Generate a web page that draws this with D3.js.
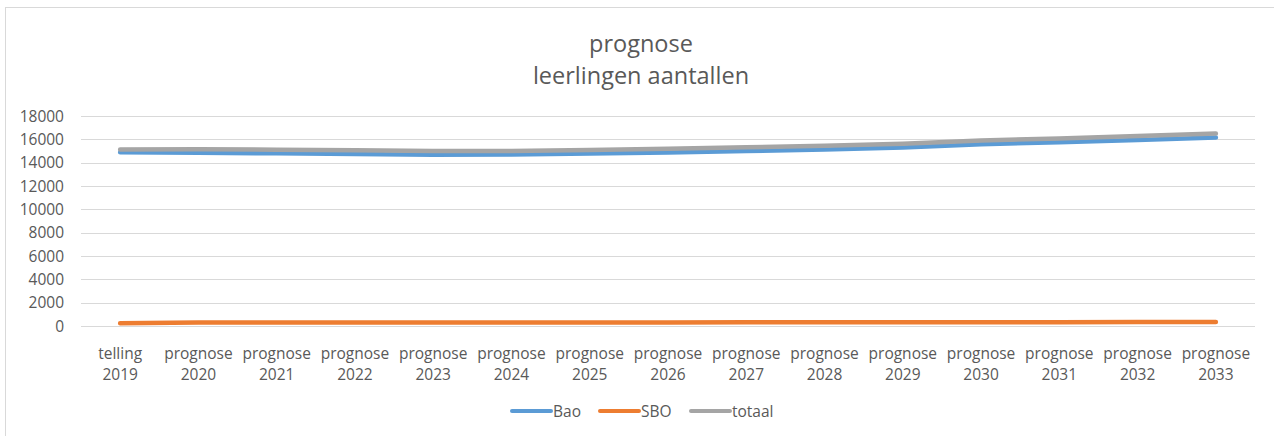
<!DOCTYPE html>
<html>
<head>
<meta charset="utf-8">
<script src="https://cdn.jsdelivr.net/npm/d3@7"></script>
<style>
  body { margin: 0; background: #fff; }
  text { font-family: "Open Sans", sans-serif; fill: #595959; }
</style>
</head>
<body>
<svg id="chart"></svg>
<script>
let width = 1274;
let height = 436;
let margin = {"top": 116, "bottom": 110, "left": 81, "right": 19};

// data
let labelTop = ["telling", "prognose", "prognose", "prognose", "prognose", "prognose", "prognose", "prognose",
    "prognose", "prognose", "prognose", "prognose", "prognose", "prognose", "prognose"];
let years = ["2019", "2020", "2021", "2022", "2023", "2024", "2025", "2026", "2027", "2028", "2029", "2030", "2031", "2032", "2033"];
let bao = [14900, 14850, 14800, 14750, 14680, 14700, 14780, 14880, 15000, 15130, 15300, 15580, 15750, 15950, 16150];
let sbo = [230, 300, 310, 310, 310, 310, 310, 310, 320, 320, 320, 330, 330, 340, 340];
let totaal = [15130, 15150, 15110, 15060, 14990, 15010, 15090, 15190, 15320, 15450, 15620, 15910, 16080, 16290, 16490];
let yTicks = [0, 2000, 4000, 6000, 8000, 10000, 12000, 14000, 16000, 18000];

let series = [
    {name: "Bao", values: bao, color: "#5B9BD5"},
    {name: "SBO", values: sbo, color: "#ED7D31"},
    {name: "totaal", values: totaal, color: "#A5A5A5"}
];

let svg = d3.select("#chart")
    .attr("width", width)
    .attr("height", height);

// chart border
svg.append("rect")
    .attr("x", 5.5)
    .attr("y", 7.5)
    .attr("width", 1300)
    .attr("height", 500)
    .style("fill", "none")
    .style("stroke", "#d9d9d9");

let x = d3.scaleBand()
    .domain(years)
    .range([margin.left, width - margin.right]);
let y = d3.scaleLinear()
    .domain([0, 18000])
    .range([height - margin.bottom, margin.top]);

// title
svg.append("text")
    .attr("x", 641)
    .attr("y", 52)
    .style("text-anchor", "middle")
    .style("font-size", "23.5px")
    .text("prognose");
svg.append("text")
    .attr("x", 641)
    .attr("y", 84)
    .style("text-anchor", "middle")
    .style("font-size", "23.5px")
    .text("leerlingen aantallen");

// gridlines
svg.append("g").selectAll("line")
    .data(yTicks)
    .enter().append("line")
    .attr("x1", margin.left)
    .attr("x2", width - margin.right)
    .attr("y1", (d) => Math.round(y(d)) + 0.5)
    .attr("y2", (d) => Math.round(y(d)) + 0.5)
    .style("stroke", "#d9d9d9")
    .style("stroke-width", 1);

// y labels
svg.append("g").selectAll("text")
    .data(yTicks)
    .enter().append("text")
    .attr("x", 64)
    .attr("y", (d) => y(d) + 5.5)
    .style("text-anchor", "end")
    .style("font-size", "15.5px")
    .text((d) => d);

// x labels
let xl = svg.append("g").selectAll("g")
    .data(years)
    .enter().append("g")
    .attr("transform", (d) => `translate(${x(d) + x.bandwidth() / 2},0)`);
xl.append("text")
    .attr("y", 359)
    .style("text-anchor", "middle")
    .style("font-size", "15.5px")
    .text((d, i) => labelTop[i]);
xl.append("text")
    .attr("y", 380)
    .style("text-anchor", "middle")
    .style("font-size", "15.5px")
    .text((d) => d);

// lines
let line = d3.line()
    .x((d, i) => x(years[i]) + x.bandwidth() / 2)
    .y((d) => y(d));

svg.append("g").selectAll("path")
    .data(series)
    .enter().append("path")
    .attr("d", (d) => line(d.values))
    .style("fill", "none")
    .style("stroke", (d) => d.color)
    .style("stroke-width", 4.5)
    .style("stroke-linecap", "round")
    .style("stroke-linejoin", "round");

// legend
let legendX = [511, 599, 690];
let legend = svg.append("g").selectAll("g")
    .data(series)
    .enter().append("g")
    .attr("transform", (d, i) => `translate(${legendX[i]},411)`);
legend.append("line")
    .attr("x1", 1)
    .attr("x2", 40)
    .style("stroke", (d) => d.color)
    .style("stroke-width", 4)
    .style("stroke-linecap", "round");
legend.append("text")
    .attr("x", 42)
    .attr("y", 5.5)
    .style("font-size", "15.5px")
    .text((d) => d.name);
</script>
</body>
</html>
